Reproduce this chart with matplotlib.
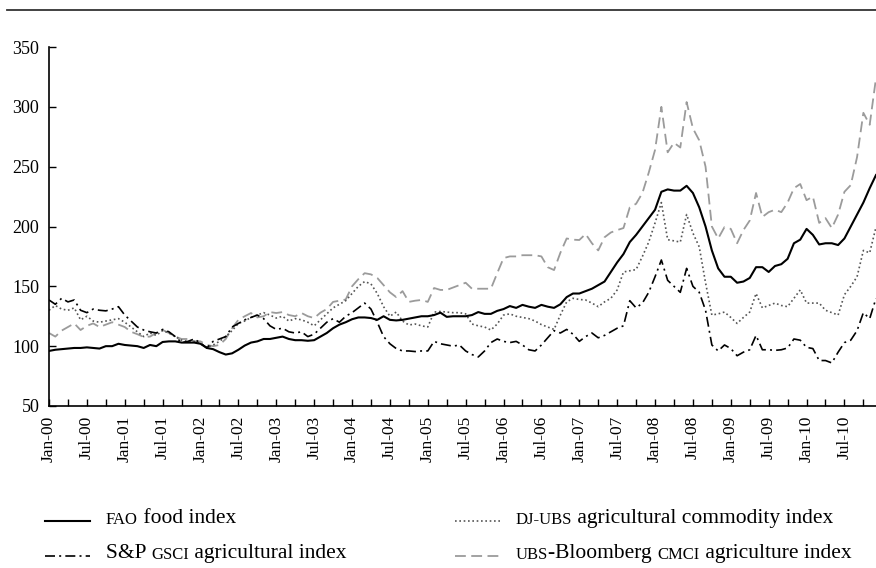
import numpy as np
import matplotlib.pyplot as plt
from matplotlib.lines import Line2D

plt.rcParams['font.family'] = ['Liberation Serif', 'DejaVu Serif']

# monthly values, Jan-00 .. Dec-10
fao = [96, 97, 97.5, 98, 98.5, 98.5, 99, 98.5, 98, 100, 100, 102,
       101, 100.5, 100, 98.5, 101, 100, 103.5, 104, 104, 103, 103, 103,
       102, 98.5, 97.5, 95, 93, 94, 97, 100.5, 103, 104, 106, 106,
       107, 108, 106, 105, 105, 104.5, 105, 108, 111, 115, 118, 120,
       122.5, 124, 124, 123.5, 122, 125, 122, 121.5, 122, 123, 124, 125,
       125, 126, 128, 124.5, 125, 125, 125, 126, 128.5, 127, 127, 129.5,
       131, 133.5, 132, 134.5, 133, 132, 134.5, 133, 132, 135, 141, 144,
       144, 146, 148, 151, 154, 162, 170, 177, 187, 193, 200, 207,
       214, 229, 231, 230, 230, 234, 228, 216, 200, 180, 165, 158,
       158, 153, 154, 157, 166, 166, 162, 167, 168.5, 173, 186, 189,
       198, 193, 185, 186, 186, 184.5, 190, 200, 210, 220, 232, 243]

gsci = [138.6, 135, 140, 137, 138.6, 130, 128, 131, 130, 129.5, 131, 133,
        126, 121, 116, 113.5, 112, 111, 114, 112, 108, 103, 104, 106,
        102.6, 98.5, 104, 106, 108, 116, 119, 122, 124, 126, 123, 117,
        114, 115, 112, 111, 112, 108, 110, 115, 120, 123, 120, 125,
        128, 132, 136, 131, 120, 108, 102, 98, 96, 96, 95.5, 96,
        96, 104, 102, 101, 100, 101, 96, 93, 91, 96, 103, 106,
        104, 103, 104, 101, 97, 96, 101, 107, 113, 111, 114, 110,
        104, 108, 111, 107, 109, 112, 115, 117, 138, 132, 136, 145,
        158, 172, 155, 150, 145, 165, 150, 145, 130, 101, 96, 101,
        98, 92, 95, 97, 109, 97, 97, 96.5, 97, 98.5, 106, 105,
        99, 98, 88, 88, 86, 95, 103, 105, 113, 128, 123, 140]

djubs = [130, 134, 131, 130, 132, 122, 125, 121, 120, 121, 122, 123,
         120, 116, 112, 108, 111, 109, 113, 111, 108, 105, 104, 104,
         102, 99, 101, 104, 108, 113, 119, 121, 124, 126, 128, 126,
         123.5, 125, 121, 123, 122, 120, 117, 122, 127, 132, 135, 138,
         144, 150, 154, 152, 144, 133, 125, 128.5, 121, 117.7, 118.5, 117,
         116, 128.5, 129, 128.5, 128, 128, 127, 118.5, 117, 116, 113.5, 118.5,
         126, 127, 125, 124, 123, 121, 118, 116, 114, 126, 137, 140,
         139, 138.6, 136, 133, 137, 140, 147, 162, 163, 164, 175, 187,
         203, 220, 189, 188, 187, 210, 194.5, 183, 153, 126, 127, 128.5,
         124, 119, 124, 128.5, 144, 132, 134, 136, 134, 133, 140, 147,
         136, 136, 136, 130, 128, 126, 143, 150, 158, 180, 178, 199.5]

cmci = [111, 108, 113, 116, 119, 113.5, 117, 119, 116, 118, 120, 118,
        116, 112, 110, 107.7, 108, 111, 113.5, 111, 108, 106, 106, 104,
        104, 101, 100, 101, 106, 115, 122, 125, 127.7, 124, 125, 128.5,
        127.7, 128.5, 126, 125, 127.7, 125, 123.5, 128, 131, 137, 138, 139,
        150, 156, 161, 160, 157, 151, 145, 141, 146, 137, 138, 138.6,
        137, 148.6, 147, 147, 149, 151, 153, 148, 148, 148, 148, 161,
        173.6, 175, 175, 176, 176, 176, 175, 166, 163.6, 178, 190, 189,
        188.7, 193.7, 186, 180, 191, 195, 197, 198.7, 216, 219, 228, 245,
        264, 300, 262, 270, 266, 304, 282, 272, 250, 200, 190, 199.5,
        198, 186, 197, 205, 228, 208, 212, 214, 212, 220, 232, 235.5,
        222, 225, 203, 207, 198.7, 210, 229, 234.6, 258, 295, 285, 324]

months = []
for yr in range(0, 11):
    for mo in ['Jan', 'Feb', 'Mar', 'Apr', 'May', 'Jun', 'Jul', 'Aug', 'Sep', 'Oct', 'Nov', 'Dec']:
        months.append(f"{mo}-{yr:02d}")

x = np.arange(len(fao))

fig = plt.figure(figsize=(8.76, 5.68), dpi=100)
ax = fig.add_axes([49 / 876, 1 - 406 / 568, 827 / 876, 359 / 568])

ax.plot(x, cmci, color='#9b9b9b', lw=1.3, dashes=(6, 3))
ax.plot(x, djubs, color='#555555', lw=1.2, dashes=(1, 1.6))
ax.plot(x, gsci, color='black', lw=1.2, dashes=(6, 2.5, 1.2, 2.5))
ax.plot(x, fao, color='black', lw=1.5)

ax.set_xlim(0, 131)
ax.set_ylim(50, 350)
ax.set_yticks(range(50, 351, 50))
ticks = list(range(0, 131, 3))
ax.set_xticks(ticks)
ax.set_xticklabels([months[t] if t % 6 == 0 else '' for t in ticks], rotation=90, fontsize=12.5)
ax.tick_params(axis='y', labelsize=13)
ax.tick_params(direction='in', length=5, width=1, pad=7)
for s in ['top', 'right']:
    ax.spines[s].set_visible(False)
for s in ['left', 'bottom']:
    ax.spines[s].set_linewidth(1.2)

# rule across the top
fig.add_artist(Line2D([7 / 876, 1], [1 - 9.5 / 568] * 2, color='#333333', lw=1.3))

# legend with small caps parts
entries = [
    (45, 521, dict(color='black', lw=1.5), [("FAO", True), (" food index", False)]),
    (45, 556, dict(color='black', lw=1.2, dashes=(6, 2.5, 1.2, 2.5)),
     [("S&P ", False), ("GSCI", True), (" agricultural index", False)]),
    (455, 521, dict(color='#555555', lw=1.2, dashes=(1, 1.6)),
     [("DJ-UBS", True), (" agricultural commodity index", False)]),
    (455, 556, dict(color='#9b9b9b', lw=1.3, dashes=(6, 3)),
     [("UBS", True), ("-Bloomberg ", False), ("CMCI", True), (" agriculture index", False)]),
]
for lx, ly, style, parts in entries:
    fy = 1 - ly / 568
    fig.add_artist(Line2D([lx / 876, (lx + 45) / 876], [fy, fy], **style))
    prev = None
    for txt, small in parts:
        size = 12 if small else 15.5
        if prev is None:
            prev = ax.annotate(txt, xy=((lx + 61) / 876, fy - 0.012), xycoords='figure fraction',
                               fontsize=size, ha='left', va='bottom', annotation_clip=False)
        else:
            prev = ax.annotate(txt, xy=(1, 0), xycoords=prev, fontsize=size,
                               ha='left', va='bottom', annotation_clip=False)

fig.savefig('out.png', dpi=100)
